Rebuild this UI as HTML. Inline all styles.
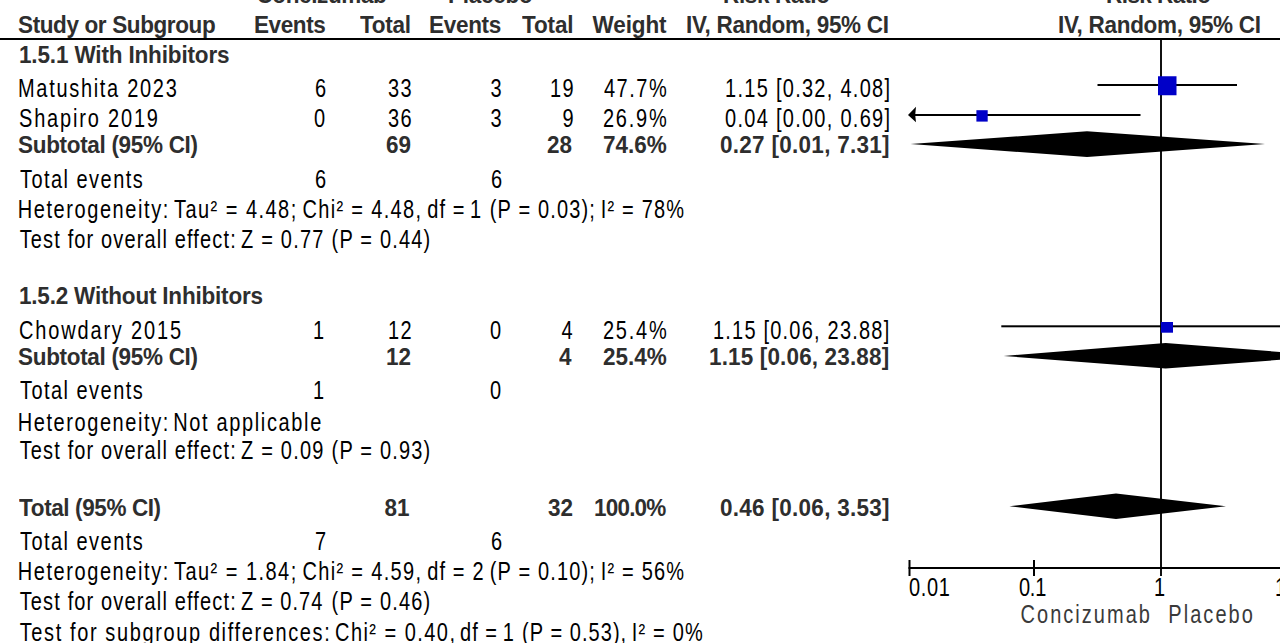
<!DOCTYPE html><html><head><meta charset="utf-8"><style>html,body{margin:0;padding:0;background:#fff;}body{width:1280px;height:643px;position:relative;overflow:hidden;}div{position:absolute;white-space:nowrap;}.r{font-family:'Liberation Sans';font-size:20px;line-height:20px;font-weight:normal;color:#000;transform:scaleY(1.245);transform-origin:0 3px;}.b{font-family:'Liberation Sans';font-size:22.5px;line-height:22.5px;font-weight:bold;color:#2e2e2e;transform:scaleY(1.09);transform-origin:0 3px;}.g{font-family:'Liberation Sans';font-size:20px;line-height:20px;font-weight:normal;color:#3a3a3a;transform:scaleY(1.245);transform-origin:0 3px;}svg{position:absolute;left:0;top:0;}</style></head><body>
<div class="b" style="left:256.50px;top:-16.00px;letter-spacing:-0.389px">Concizumab</div>
<div class="b" style="left:448.00px;top:-16.00px;letter-spacing:-0.250px">Placebo</div>
<div class="b" style="left:723.00px;top:-16.00px;letter-spacing:-0.333px">Risk Ratio</div>
<div class="b" style="left:1106.00px;top:-16.00px;letter-spacing:-0.556px">Risk Ratio</div>
<div class="b" style="left:18.00px;top:13.80px;letter-spacing:-0.375px">Study or Subgroup</div>
<div class="b" style="left:254.00px;top:13.80px;letter-spacing:-0.400px">Events</div>
<div class="b" style="left:360.00px;top:13.80px;letter-spacing:-0.250px">Total</div>
<div class="b" style="left:429.00px;top:13.80px;letter-spacing:-0.300px">Events</div>
<div class="b" style="left:522.00px;top:13.80px;letter-spacing:-0.125px">Total</div>
<div class="b" style="left:592.50px;top:13.80px;letter-spacing:-0.100px">Weight</div>
<div class="b" style="left:686.00px;top:13.80px;letter-spacing:-0.294px">IV, Random, 95% CI</div>
<div class="b" style="left:1058.00px;top:13.80px;letter-spacing:-0.294px">IV, Random, 95% CI</div>
<div class="b" style="left:19.00px;top:43.50px;letter-spacing:-0.150px">1.5.1 With Inhibitors</div>
<div class="r" style="left:18.00px;top:77.20px;letter-spacing:1.692px">Matushita 2023</div>
<div class="r" style="left:315.00px;top:77.20px;letter-spacing:1.500px">6</div>
<div class="r" style="left:388.00px;top:77.20px;letter-spacing:1.500px">33</div>
<div class="r" style="left:490.50px;top:77.20px;letter-spacing:1.500px">3</div>
<div class="r" style="left:550.00px;top:77.20px;letter-spacing:1.500px">19</div>
<div class="r" style="left:604.00px;top:77.20px;letter-spacing:1.500px">47.7%</div>
<div class="r" style="left:725.00px;top:77.20px;letter-spacing:1.281px">1.15 [0.32, 4.08]</div>
<div class="r" style="left:19.00px;top:107.30px;letter-spacing:1.818px">Shapiro 2019</div>
<div class="r" style="left:314.00px;top:107.30px;letter-spacing:1.500px">0</div>
<div class="r" style="left:388.00px;top:107.30px;letter-spacing:1.500px">36</div>
<div class="r" style="left:490.50px;top:107.30px;letter-spacing:1.500px">3</div>
<div class="r" style="left:562.50px;top:107.30px;letter-spacing:1.500px">9</div>
<div class="r" style="left:603.00px;top:107.30px;letter-spacing:1.750px">26.9%</div>
<div class="r" style="left:725.00px;top:107.30px;letter-spacing:1.281px">0.04 [0.00, 0.69]</div>
<div class="b" style="left:18.00px;top:133.80px;letter-spacing:-0.312px">Subtotal (95% CI)</div>
<div class="b" style="left:386.00px;top:133.80px;letter-spacing:0.000px">69</div>
<div class="b" style="left:547.00px;top:133.80px;letter-spacing:0.000px">28</div>
<div class="b" style="left:603.00px;top:133.80px;letter-spacing:0.000px">74.6%</div>
<div class="b" style="left:720.00px;top:133.80px;letter-spacing:0.281px">0.27 [0.01, 7.31]</div>
<div class="r" style="left:20.00px;top:167.70px;letter-spacing:1.455px">Total events</div>
<div class="r" style="left:315.00px;top:167.70px;letter-spacing:1.500px">6</div>
<div class="r" style="left:491.00px;top:167.70px;letter-spacing:1.500px">6</div>
<div class="r" style="left:17.70px;top:198.00px;letter-spacing:1.577px">Heterogeneity:</div>
<div class="r" style="left:174.00px;top:198.00px;letter-spacing:1.455px">Tau² = 4.48;</div>
<div class="r" style="left:302.50px;top:198.00px;letter-spacing:1.318px">Chi² = 4.48,</div>
<div class="r" style="left:427.30px;top:198.00px;letter-spacing:1.033px">df =</div>
<div class="r" style="left:470.05px;top:198.00px;letter-spacing:1.500px">1</div>
<div class="r" style="left:489.80px;top:198.00px;letter-spacing:1.150px">(P = 0.03);</div>
<div class="r" style="left:600.70px;top:198.00px;letter-spacing:1.186px">I² = 78%</div>
<div class="r" style="left:19.70px;top:228.30px;letter-spacing:1.143px">Test for overall effect:</div>
<div class="r" style="left:241.00px;top:228.30px;letter-spacing:1.214px">Z = 0.77</div>
<div class="r" style="left:331.60px;top:228.30px;letter-spacing:1.178px">(P = 0.44)</div>
<div class="b" style="left:19.00px;top:285.40px;letter-spacing:-0.196px">1.5.2 Without Inhibitors</div>
<div class="r" style="left:19.00px;top:319.00px;letter-spacing:1.833px">Chowdary 2015</div>
<div class="r" style="left:313.00px;top:319.00px;letter-spacing:1.500px">1</div>
<div class="r" style="left:388.00px;top:319.00px;letter-spacing:1.500px">12</div>
<div class="r" style="left:490.00px;top:319.00px;letter-spacing:1.500px">0</div>
<div class="r" style="left:561.50px;top:319.00px;letter-spacing:1.500px">4</div>
<div class="r" style="left:603.00px;top:319.00px;letter-spacing:1.750px">25.4%</div>
<div class="r" style="left:713.00px;top:319.00px;letter-spacing:1.206px">1.15 [0.06, 23.88]</div>
<div class="b" style="left:18.00px;top:345.60px;letter-spacing:-0.312px">Subtotal (95% CI)</div>
<div class="b" style="left:386.00px;top:345.60px;letter-spacing:0.000px">12</div>
<div class="b" style="left:559.00px;top:345.60px;letter-spacing:0.000px">4</div>
<div class="b" style="left:603.00px;top:345.60px;letter-spacing:0.000px">25.4%</div>
<div class="b" style="left:709.00px;top:345.60px;letter-spacing:0.147px">1.15 [0.06, 23.88]</div>
<div class="r" style="left:20.00px;top:379.00px;letter-spacing:1.455px">Total events</div>
<div class="r" style="left:313.00px;top:379.00px;letter-spacing:1.500px">1</div>
<div class="r" style="left:490.00px;top:379.00px;letter-spacing:1.500px">0</div>
<div class="r" style="left:17.70px;top:410.50px;letter-spacing:1.577px">Heterogeneity:</div>
<div class="r" style="left:173.20px;top:410.50px;letter-spacing:1.646px">Not applicable</div>
<div class="r" style="left:19.70px;top:439.00px;letter-spacing:1.143px">Test for overall effect:</div>
<div class="r" style="left:241.00px;top:439.00px;letter-spacing:1.214px">Z = 0.09</div>
<div class="r" style="left:331.60px;top:439.00px;letter-spacing:1.178px">(P = 0.93)</div>
<div class="b" style="left:19.10px;top:496.50px;letter-spacing:-0.392px">Total (95% CI)</div>
<div class="b" style="left:384.50px;top:496.50px;letter-spacing:0.000px">81</div>
<div class="b" style="left:548.00px;top:496.50px;letter-spacing:0.000px">32</div>
<div class="b" style="left:594.00px;top:496.50px;letter-spacing:-0.800px">100.0%</div>
<div class="b" style="left:720.00px;top:496.50px;letter-spacing:0.281px">0.46 [0.06, 3.53]</div>
<div class="r" style="left:20.00px;top:529.50px;letter-spacing:1.455px">Total events</div>
<div class="r" style="left:315.00px;top:529.50px;letter-spacing:1.500px">7</div>
<div class="r" style="left:491.00px;top:529.50px;letter-spacing:1.500px">6</div>
<div class="r" style="left:17.70px;top:559.70px;letter-spacing:1.577px">Heterogeneity:</div>
<div class="r" style="left:174.00px;top:559.70px;letter-spacing:1.455px">Tau² = 1.84;</div>
<div class="r" style="left:302.50px;top:559.70px;letter-spacing:1.318px">Chi² = 4.59,</div>
<div class="r" style="left:427.30px;top:559.70px;letter-spacing:1.033px">df =</div>
<div class="r" style="left:472.40px;top:559.70px;letter-spacing:1.500px">2</div>
<div class="r" style="left:489.80px;top:559.70px;letter-spacing:1.150px">(P = 0.10);</div>
<div class="r" style="left:600.70px;top:559.70px;letter-spacing:1.186px">I² = 56%</div>
<div class="r" style="left:19.70px;top:589.70px;letter-spacing:1.143px">Test for overall effect:</div>
<div class="r" style="left:241.00px;top:589.70px;letter-spacing:1.071px">Z = 0.74</div>
<div class="r" style="left:331.60px;top:589.70px;letter-spacing:1.178px">(P = 0.46)</div>
<div class="r" style="left:19.70px;top:620.80px;letter-spacing:1.617px">Test for subgroup differences:</div>
<div class="r" style="left:335.00px;top:620.80px;letter-spacing:1.455px">Chi² = 0.40,</div>
<div class="r" style="left:460.00px;top:620.80px;letter-spacing:1.033px">df =</div>
<div class="r" style="left:502.75px;top:620.80px;letter-spacing:1.500px">1</div>
<div class="r" style="left:522.00px;top:620.80px;letter-spacing:1.060px">(P = 0.53),</div>
<div class="r" style="left:631.80px;top:620.80px;letter-spacing:1.183px">I² = 0%</div>
<div class="r" style="left:909.00px;top:575.50px;letter-spacing:0.667px">0.01</div>
<div class="r" style="left:1019.00px;top:575.50px;letter-spacing:-0.250px">0.1</div>
<div class="r" style="left:1153.95px;top:575.50px;letter-spacing:1.500px">1</div>
<div class="r" style="left:1275.00px;top:575.50px;letter-spacing:1.500px">10</div>
<div class="g" style="left:1020.60px;top:603.00px;letter-spacing:2.022px">Concizumab</div>
<div class="g" style="left:1168.30px;top:603.00px;letter-spacing:2.050px">Placebo</div>
<svg width="1280" height="643" viewBox="0 0 1280 643">
<rect x="0" y="38" width="1280" height="2" fill="#000"/>
<rect x="1160" y="40" width="2" height="536" fill="#111"/>
<!-- Matushita -->
<rect x="1097.5" y="84" width="139.5" height="2" fill="#000"/>
<rect x="1158" y="76.25" width="18.5" height="19" fill="#0000c8"/>
<!-- Shapiro -->
<rect x="912" y="114" width="228.5" height="2" fill="#000"/>
<path d="M908,115 L916,106.8 L915.2,115 L916,122.2 Z" fill="#000"/>
<rect x="976.4" y="110.2" width="11.3" height="11.4" fill="#0000c8"/>
<!-- Subtotal 1 -->
<path d="M910.5,144 L1087,131.25 L1265,144 L1087,157 Z" fill="#000"/>
<!-- Chowdary -->
<rect x="1001.3" y="325.3" width="278.7" height="2" fill="#000"/>
<rect x="1161" y="322" width="12" height="10.7" fill="#0000c8"/>
<!-- Subtotal 2 -->
<path d="M1003.6,356 L1165.6,343 L1331,356 L1165.6,368.5 Z" fill="#000"/>
<!-- Total -->
<path d="M1009.4,506.2 L1116,493.4 L1226,506.2 L1116,519.1 Z" fill="#000"/>
<!-- axis -->
<rect x="908.5" y="567" width="371.5" height="2" fill="#000"/>
<rect x="908.5" y="560" width="2" height="16" fill="#000"/>
<rect x="1033" y="560" width="2" height="16" fill="#000"/>
</svg>

</body></html>
